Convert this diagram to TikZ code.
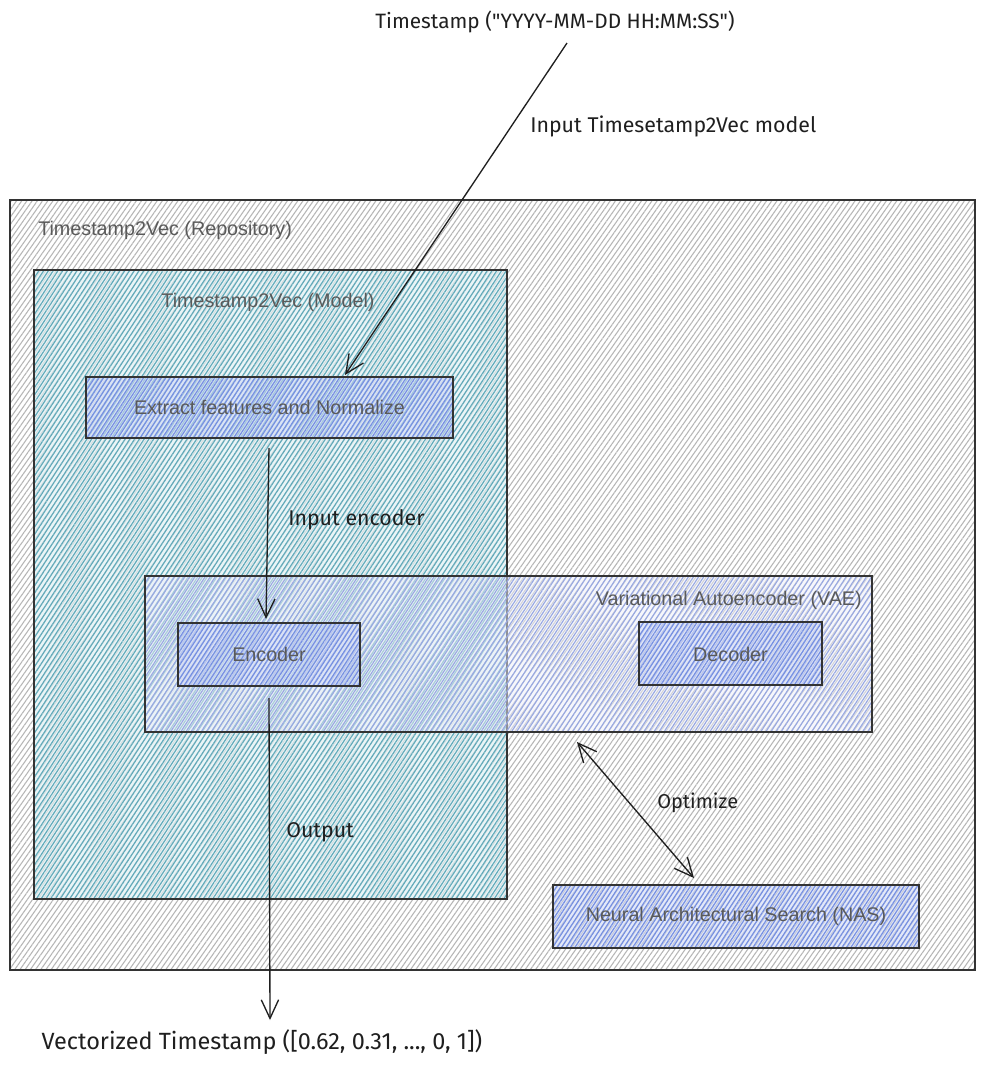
\documentclass[tikz,border=0pt]{standalone}
\usepackage{fontspec}
\setmainfont{Liberation Sans}
\newfontfamily\handfont{Fira Sans}
\usetikzlibrary{arrows.meta,patterns.meta}
\definecolor{labelgray}{HTML}{5A5A5A}
\definecolor{repohatch}{HTML}{B6B6B6}
\definecolor{modelhatch}{HTML}{62AABA}
\definecolor{modelfill}{HTML}{E2F1F4}
\definecolor{vaehatch}{HTML}{98A8E2}
\definecolor{vaefill}{HTML}{EEF0FA}
\definecolor{boxhatch}{HTML}{7690E2}
\definecolor{boxfill}{HTML}{D0D9F6}
\tikzset{
  hatchbox/.style={draw=black!80, line width=0.9pt},
  repo/.style={hatchbox, pattern={Lines[angle=55,distance=3.2pt,line width=0.8pt]}, pattern color=repohatch},
  modelbg/.style={fill=modelfill, fill opacity=0.7},
  model/.style={hatchbox, pattern={Lines[angle=57,distance=3pt,line width=0.9pt]}, pattern color=modelhatch},
  vaebg/.style={fill=vaefill, fill opacity=0.5},
  vae/.style={hatchbox, pattern={Lines[angle=57,distance=3.2pt,line width=0.85pt]}, pattern color=vaehatch},
  innerbg/.style={fill=boxfill, fill opacity=0.6},
  inner/.style={hatchbox, pattern={Lines[angle=57,distance=2.8pt,line width=0.9pt]}, pattern color=boxhatch},
  boxlabel/.style={text=labelgray, font=\fontsize{14.8}{16}\selectfont, inner sep=0pt},
  hand/.style={text=black!88, font=\handfont\fontsize{16}{18}\selectfont, inner sep=0pt},
  conn/.style={draw=black!88, line width=1pt, -{Straight Barb[length=14pt,width=13pt,line width=1pt]}},
  dconn/.style={draw=black!88, line width=1pt, {Straight Barb[length=14pt,width=13pt,line width=1pt]}-{Straight Barb[length=14pt,width=13pt,line width=1pt]}},
}
\begin{document}
\begin{tikzpicture}[x=0.75pt,y=-0.75pt]
\useasboundingbox (0,0) rectangle (985,1065);
\fill[white] (0,0) rectangle (985,1065);
% repository
\path[repo] (10,200) rectangle (975,970);
\node[boxlabel, anchor=west] (repolabel) at (38,230) {Timestamp2Vec (Repository)};
% model
\fill[modelbg] (34,270) rectangle (507,899);
\path[model] (34,270) rectangle (507,899);
\node[boxlabel] (modellabel) at (268,302) {Timestamp2Vec (Model)};
% VAE
\fill[vaebg] (145,576) rectangle (872,732);
\path[vae] (145,576) rectangle (872,732);
\node[boxlabel, anchor=east] (vaelabel) at (862,600) {Variational Autoencoder (VAE)};
% inner boxes
\fill[innerbg] (86,377) rectangle (453,438);
\path[inner] (86,377) rectangle (453,438);
\node[boxlabel] (extract) at (269.5,407.5) {Extract features and Normalize};
\coordinate (extractTop) at (345,375);
\coordinate (extractBot) at (269,448);

\fill[innerbg] (178,623) rectangle (360,686);
\path[inner] (178,623) rectangle (360,686);
\node[boxlabel] (encoder) at (269,654.5) {Encoder};
\coordinate (encTop) at (266,619);
\coordinate (encBot) at (269,698);

\fill[innerbg] (639,622) rectangle (822,685);
\path[inner] (639,622) rectangle (822,685);
\node[boxlabel] (decoder) at (730.5,654) {Decoder};

\fill[innerbg] (553,885) rectangle (919,948);
\path[inner] (553,885) rectangle (919,948);
\node[boxlabel] (nas) at (736,916.5) {Neural Architectural Search (NAS)};
\coordinate (nasTop) at (694,878);
\coordinate (vaeBot) at (577,742);

% texts
\node[hand, font=\handfont\fontsize{15.6}{18}\selectfont] (ts) at (555,22) {Timestamp ("YYYY-MM-DD HH:MM:SS")};
\coordinate (tsBot) at (567,43);
\node[hand, font=\handfont\fontsize{17.6}{20}\selectfont] (vec) at (262,1042) {Vectorized Timestamp ([0.62, 0.31, ..., 0, 1])};
\coordinate (vecTop) at (270,1020);

% connectors
\draw[conn] (tsBot) -- (extractTop);
\node[hand, anchor=west] (l1) at (530,126) {Input Timesetamp2Vec model};
\draw[conn] (extractBot) -- (encTop);
\node[hand, anchor=west] (l2) at (288,520) {Input encoder};
\draw[conn] (encBot) -- (vecTop);
\node[hand, anchor=west] (l3) at (286,832) {Output};
\draw[dconn] (vaeBot) -- (nasTop);
\node[hand, anchor=west, font=\handfont\fontsize{15}{18}\selectfont] (l4) at (657,803) {Optimize};
\end{tikzpicture}
\end{document}
